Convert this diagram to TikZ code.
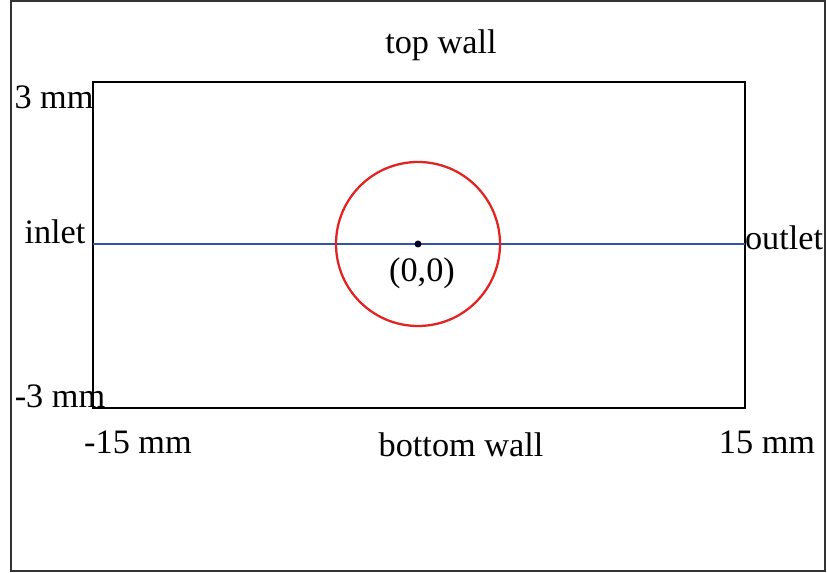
\documentclass[tikz,border=0pt]{standalone}
\usepackage{fontspec}
\setmainfont{Liberation Serif}
\usepackage{tikz}
\usetikzlibrary{positioning,calc}
\definecolor{wallblk}{HTML}{000000}
\definecolor{axisblue}{HTML}{3352A8}
\definecolor{ringred}{HTML}{E52222}
\definecolor{framegray}{HTML}{333333}
\tikzset{
  wall/.style={draw=wallblk, line width=1.3pt},
  centreline/.style={draw=axisblue, line width=1.3pt},
  ring/.style={draw=ringred, line width=1.3pt},
  lbl/.style={font=\fontsize{19.5}{22}\selectfont, inner sep=0pt},
  outerframe/.style={draw=framegray, line width=0.8pt},
}
\begin{document}
\begin{tikzpicture}[x=0.02cm, y=-0.02cm]
\useasboundingbox (0,0) rectangle (827,573);
\draw[outerframe] (11,1) rectangle (825,571);
% channel corners
\coordinate (nw) at (93,82);
\coordinate (se) at (745,408);
\coordinate (inl) at (93,244);
\coordinate (outl) at (745,244);
\coordinate (origin) at (418,244);
\draw[wall] (nw) rectangle (se);
\draw[centreline] (inl) -- (outl);
\draw[ring] (origin) circle (82);
\fill[fill=black!85!blue] (origin) circle (3.5);
% labels
\node[lbl] (top) at (441,45) {top wall};
\node[lbl] (bot) at (461,445) {bottom wall};
\node[lbl] (ymax) at (54,97) {3 mm};
\node[lbl] (ymin) at (60,396) {-3 mm};
\node[lbl] (xmin) at (138,442) {-15 mm};
\node[lbl] (xmax) at (767,442) {15 mm};
\node[lbl] (in) at (55,232) {inlet};
\node[lbl] (out) at (784,238) {outlet};
\node[lbl] (orig) at (422,273) {(0,0)};
\end{tikzpicture}
\end{document}
